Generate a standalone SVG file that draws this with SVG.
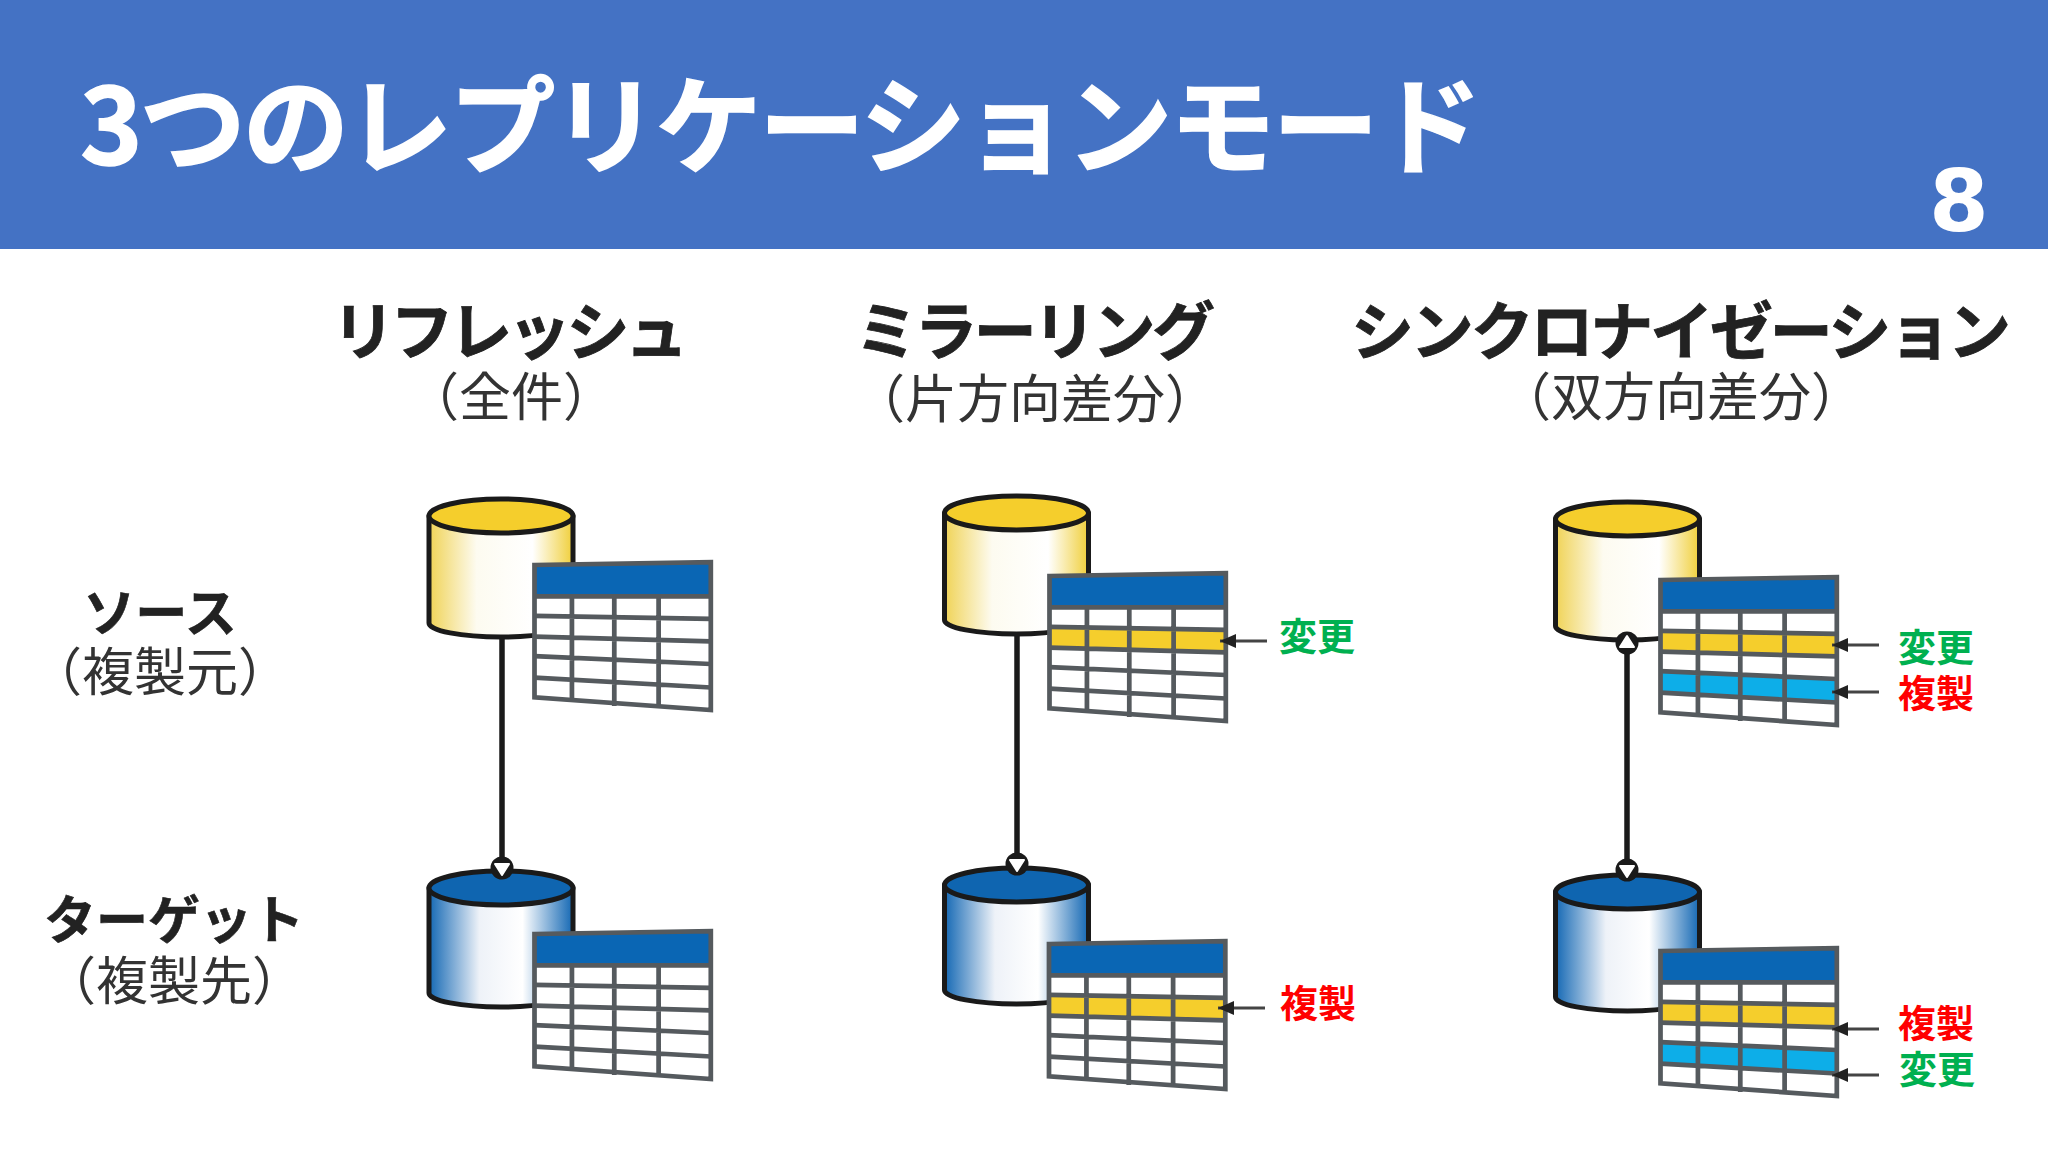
<svg xmlns="http://www.w3.org/2000/svg" xmlns:xlink="http://www.w3.org/1999/xlink" width="2048" height="1152" viewBox="0 0 2048 1152">
<style>
text{font-family:"Noto Sans CJK JP","Noto Sans",sans-serif}
.title{font-size:106px;font-weight:700;fill:#fff;stroke:#fff;stroke-width:1.5}
.num{font-family:"DejaVu Sans",sans-serif;font-size:86px;font-weight:700;fill:#fff}
.h{font-size:63px;font-weight:700;fill:#222;text-anchor:middle;stroke:#222;stroke-width:.8}
.s{font-size:52px;fill:#333;text-anchor:middle}
.l{font-size:52px;font-weight:700;fill:#222;text-anchor:middle;stroke:#222;stroke-width:.6}
.g{font-size:38px;font-weight:700;fill:#00B050}
.r{font-size:38px;font-weight:700;fill:#FF0000}
.wall{stroke:#1a1a1a;stroke-width:5;stroke-linejoin:round}
.cap{stroke:#1a1a1a;stroke-width:5}
.tg{fill:none;stroke:#555a5e;stroke-width:4.8}
.link{stroke:#1a1a1a;stroke-width:5.5;fill:none}
.arrow{stroke:#444;stroke-width:3;fill:none;marker-end:url(#tip)}
</style>
<defs>
<linearGradient id="gy"><stop offset="0" stop-color="#F0D356"/><stop offset=".33" stop-color="#FDFBF0"/><stop offset=".72" stop-color="#FFFFFF"/><stop offset="1" stop-color="#F0CF3A"/></linearGradient>
<linearGradient id="gb"><stop offset="0" stop-color="#1468B4"/><stop offset=".35" stop-color="#EEF2F8"/><stop offset=".65" stop-color="#FFFFFF"/><stop offset="1" stop-color="#1468B4"/></linearGradient>
<marker id="tip" markerUnits="userSpaceOnUse" markerWidth="18" markerHeight="16" refX="16" refY="8" orient="auto"><path d="M0 1L16 8L0 15Z" fill="#222"/></marker>
<g id="cy"><path class="wall" fill="url(#gy)" d="M-72 0V107A72 14 0 0 0 72 107V0Z"/><ellipse class="cap" fill="#F5CE2C" rx="72" ry="17"/></g>
<g id="cb"><path class="wall" fill="url(#gb)" d="M-72 0V105A72 14 0 0 0 72 105V0Z"/><ellipse class="cap" fill="#0F65B0" rx="72" ry="17"/></g>
<g id="grid">
<path class="tg" d="M0 32L179 32M0 52L179 55M0 73L179 78M0 93L179 101M0 115L179 125M38 32V139M81 32V144M126 32V146"/>
<path class="tg" d="M0 0L179 -3V148L0 135Z"/>
</g>
<g id="t0" transform="scale(.985 .98)"><path fill="#fff" d="M0 0L179 -3V148L0 135Z"/><path fill="#0A66B4" d="M0 0L179 -3V32H0Z"/><use href="#grid"/></g>
<g id="t1" transform="scale(.985 .98)"><path fill="#fff" d="M0 0L179 -3V148L0 135Z"/><path fill="#0A66B4" d="M0 0L179 -3V32H0Z"/><path fill="#F5CE2C" d="M0 52L179 55V78L0 73Z"/><use href="#grid"/></g>
<g id="t2" transform="scale(.985 .98)"><path fill="#fff" d="M0 0L179 -3V148L0 135Z"/><path fill="#0A66B4" d="M0 0L179 -3V32H0Z"/><path fill="#F5CE2C" d="M0 52L179 55V78L0 73Z"/><path fill="#0DAEE8" d="M0 93L179 101V125L0 115Z"/><use href="#grid"/></g>
<g id="hd"><circle r="11.5" fill="#1a1a1a"/><path d="M-7 -4H7L0 7Z" fill="#fff" stroke="#fff" stroke-width="2" stroke-linejoin="round"/></g>
<g id="hu"><circle r="11.5" fill="#1a1a1a"/><path d="M-7 4H7L0 -7Z" fill="#fff" stroke="#fff" stroke-width="2" stroke-linejoin="round"/></g>
</defs>
<rect width="2048" height="1152" fill="#fff"/>
<g id="banner">
<rect width="2048" height="249" fill="#4472C4"/>
<text class="title" x="80" y="165" textLength="1402" lengthAdjust="spacing">3つのレプリケーションモード</text>
<text class="num" x="1959" y="231" text-anchor="middle">8</text>
</g>
<g id="head-refresh"><text class="h" x="510" y="354" textLength="356" lengthAdjust="spacing">リフレッシュ</text><text class="s" x="511" y="416">（全件）</text></g>
<g id="head-mirror"><text class="h" x="1035" y="354" textLength="360" lengthAdjust="spacing">ミラーリング</text><text class="s" x="1035" y="418">（片方向差分）</text></g>
<g id="head-sync"><text class="h" x="1681" y="354" textLength="660" lengthAdjust="spacing">シンクロナイゼーション</text><text class="s" x="1681" y="416">（双方向差分）</text></g>
<g id="label-source"><text class="l" x="160" y="632">ソース</text><text class="s" x="160" y="691">（複製元）</text></g>
<g id="label-target"><text class="l" x="174" y="939">ターゲット</text><text class="s" x="174" y="1000">（複製先）</text></g>
<g id="refresh-source"><use href="#cy" x="501" y="516"/><use href="#t0" x="534.5" y="565"/></g>
<g id="refresh-target"><use href="#cb" x="501" y="888"/><use href="#t0" x="534.5" y="934"/></g>
<g id="mirror-source"><use href="#cy" x="1016.5" y="513"/><use href="#t1" x="1049.5" y="576"/><text class="g" x="1279" y="650">変更</text></g>
<g id="mirror-target"><use href="#cb" x="1016.5" y="885"/><use href="#t1" x="1049" y="944"/><text class="r" x="1280" y="1017">複製</text></g>
<g id="sync-source"><use href="#cy" x="1627.5" y="519"/><use href="#t2" x="1660.5" y="580"/><text class="g" x="1898" y="661">変更</text><text class="r" x="1898" y="707">複製</text></g>
<g id="sync-target"><use href="#cb" x="1627.5" y="892"/><use href="#t2" x="1660.5" y="951"/><text class="r" x="1898" y="1037">複製</text><text class="g" x="1899" y="1083">変更</text></g>
<g id="connectors">
<path class="link" d="M502 638V860"/><use href="#hd" x="502" y="868"/>
<path class="link" d="M1017 635V856"/><use href="#hd" x="1017" y="864"/>
<path class="link" d="M1627 650V862"/><use href="#hu" x="1627" y="643"/><use href="#hd" x="1627" y="870"/>
<path class="arrow" d="M1267 641H1220"/>
<path class="arrow" d="M1265 1008H1218"/>
<path class="arrow" d="M1879 645H1832"/>
<path class="arrow" d="M1879 692H1832"/>
<path class="arrow" d="M1879 1029H1832"/>
<path class="arrow" d="M1879 1075H1832"/>
</g>
</svg>
